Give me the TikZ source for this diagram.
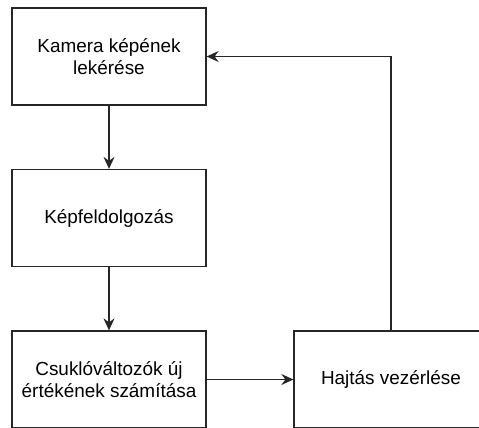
\documentclass[tikz,border=0pt]{standalone}
\usepackage{fontspec}
\setmainfont{Liberation Sans}
\usepackage{tikz}
\usetikzlibrary{positioning,arrows.meta,calc}

\begin{document}
\begin{tikzpicture}[
    x=1bp, y=-1bp,
    stepbox/.style={rectangle, draw=black!85, fill=white, line width=1.3bp,
                    align=center, minimum width=194bp, minimum height=97bp,
                    font=\fontsize{19}{22}\selectfont, inner sep=4pt},
    flow/.style={-{Stealth[length=12bp, width=11bp, inset=4bp]}, line width=1.3bp, draw=black!85}
]

% --- page frame ---
\useasboundingbox (0,0) rectangle (479,427);
\clip (0,0) rectangle (479,427);

% --- left column of steps ---
\node[stepbox] (camera) at (109, 56.5) {Kamera képének\\lekérése};
\node[stepbox] (proc)   at (109, 218)  {Képfeldolgozás};
\node[stepbox] (joints) at (109, 379.5) {Csuklóváltozók új\\értékének számítása};

% --- drive control on the right ---
\node[stepbox] (drive)  at (391, 379.5) {Hajtás vezérlése};

% --- connectors ---
\draw[flow] (camera) -- (proc);
\draw[flow] (proc) -- (joints);
\draw[flow] (joints) -- (drive);
\draw[flow] (drive.north) |- (camera.east);

\end{tikzpicture}
\end{document}
